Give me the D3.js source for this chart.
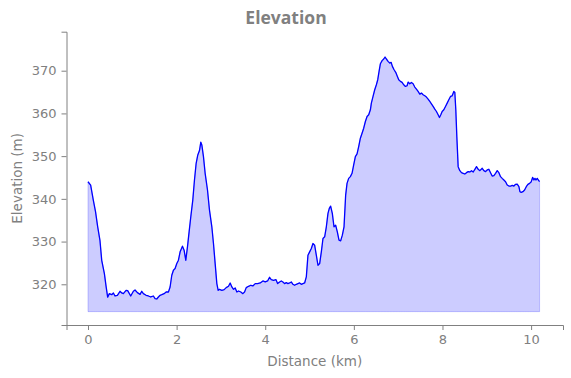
<!DOCTYPE html>
<html>
<head>
<meta charset="utf-8">
<script src="https://cdn.jsdelivr.net/npm/d3@7"></script>
<style>
    body { margin: 0; background: #fff; }
    text { font-family: 'DejaVu Sans', sans-serif; fill: #808080; }
    .axis text { font-size: 13px; }
    .axis path, .axis line { stroke: #808080; }
    .title { font-family: 'Open Sans', sans-serif; font-weight: bold; font-size: 17.5px; }
</style>
</head>
<body>
<div id="chart"></div>
<script>
// Data: distance along the route (km) and elevation (m)
const distanceKm = [
    0.00, 0.06, 0.12, 0.17, 0.22, 0.27, 0.31, 0.37, 0.41, 0.444,
    0.482, 0.535, 0.573, 0.610, 0.663, 0.723, 0.761, 0.798, 0.859, 0.896,
    0.964, 1.024, 1.062, 1.115, 1.175, 1.213, 1.250, 1.311, 1.363, 1.416,
    1.476, 1.514, 1.552, 1.589, 1.627, 1.665, 1.718, 1.763, 1.815, 1.853,
    1.891, 1.928, 1.966, 2.004, 2.041, 2.079, 2.132, 2.169, 2.207, 2.245,
    2.282, 2.320, 2.365, 2.403, 2.441, 2.478, 2.516, 2.546, 2.569, 2.606,
    2.644, 2.697, 2.742, 2.795, 2.832, 2.870, 2.908, 2.938, 2.968, 3.021,
    3.073, 3.119, 3.171, 3.209, 3.247, 3.284, 3.322, 3.360, 3.397, 3.450,
    3.495, 3.533, 3.571, 3.623, 3.676, 3.721, 3.774, 3.827, 3.887, 3.947,
    4.000, 4.053, 4.098, 4.136, 4.188, 4.241, 4.279, 4.324, 4.362, 4.399,
    4.437, 4.475, 4.512, 4.550, 4.588, 4.625, 4.663, 4.701, 4.738, 4.776,
    4.814, 4.851, 4.889, 4.927, 4.964, 5.002, 5.040, 5.077, 5.115, 5.153,
    5.190, 5.228, 5.266, 5.303, 5.341, 5.379, 5.416, 5.446, 5.476, 5.514,
    5.552, 5.589, 5.627, 5.665, 5.702, 5.740, 5.778, 5.815, 5.846, 5.883,
    5.921, 5.959, 5.996, 6.034, 6.072, 6.109, 6.147, 6.185, 6.222, 6.260,
    6.298, 6.335, 6.373, 6.395, 6.433, 6.471, 6.508, 6.539, 6.569, 6.599,
    6.637, 6.674, 6.704, 6.734, 6.772, 6.810, 6.840, 6.870, 6.908, 6.945,
    6.976, 7.013, 7.051, 7.089, 7.126, 7.164, 7.202, 7.224, 7.262, 7.299,
    7.337, 7.375, 7.412, 7.450, 7.488, 7.525, 7.563, 7.601, 7.638, 7.676,
    7.714, 7.751, 7.789, 7.827, 7.864, 7.902, 7.932, 7.962, 7.993, 8.030,
    8.068, 8.106, 8.143, 8.181, 8.219, 8.256, 8.279, 8.301, 8.324, 8.354,
    8.392, 8.429, 8.467, 8.505, 8.542, 8.580, 8.618, 8.655, 8.693, 8.731,
    8.768, 8.806, 8.844, 8.897, 8.934, 8.972, 9.009, 9.047, 9.085, 9.122,
    9.160, 9.198, 9.235, 9.273, 9.311, 9.348, 9.386, 9.424, 9.461, 9.499,
    9.537, 9.574, 9.612, 9.650, 9.687, 9.725, 9.748, 9.778, 9.815, 9.853,
    9.891, 9.928, 9.966, 10.004, 10.034, 10.064, 10.087, 10.109, 10.139, 10.162,
    10.192
];
const elevationM = [
    344.0, 343.2, 339.7, 337.0, 333.4, 330.3, 325.6, 322.5, 319.4, 317.0,
    317.81, 317.57, 317.97, 317.26, 317.42, 318.36, 317.97, 317.81, 318.59, 318.51,
    317.26, 318.36, 318.67, 318.04, 317.65, 318.36, 317.81, 317.42, 317.26, 317.03,
    317.26, 316.64, 316.56, 317.03, 317.42, 317.57, 317.81, 318.20, 318.20, 319.37,
    322.11, 323.29, 323.68, 324.85, 325.63, 327.59, 328.92, 327.98, 325.63, 328.76,
    332.28, 335.81, 339.72, 344.41, 348.33, 350.28, 351.30, 353.26, 352.63, 349.89,
    345.98, 342.07, 337.37, 333.46, 329.55, 324.85, 320.16, 318.59, 318.83, 318.59,
    318.75, 319.22, 319.53, 320.31, 319.37, 318.83, 319.14, 318.20, 318.43, 318.20,
    317.81, 318.20, 319.22, 319.53, 319.77, 319.61, 320.16, 320.16, 320.31, 320.78,
    320.55, 320.78, 321.64, 321.10, 320.94, 321.10, 320.16, 320.55, 320.78, 320.55,
    320.16, 320.39, 320.16, 320.31, 320.55, 320.00, 319.77, 320.00, 320.16, 320.31,
    320.00, 320.16, 320.31, 321.72, 326.81, 327.59, 328.37, 329.55, 329.15, 326.81,
    324.46, 324.85, 327.59, 330.72, 331.11, 333.46, 336.59, 337.76, 338.31, 336.59,
    333.46, 333.85, 332.28, 330.33, 330.17, 331.50, 333.46, 340.89, 343.63, 344.80,
    345.20, 345.98, 347.93, 349.89, 350.52, 352.24, 354.19, 355.37, 356.54, 358.11,
    359.28, 359.67, 360.85, 362.41, 363.97, 365.54, 366.71, 367.89, 369.84, 371.64,
    372.35, 372.74, 373.21, 372.74, 372.19, 371.80, 371.96, 371.02, 370.23, 369.61,
    368.83, 367.89, 367.50, 367.26, 366.71, 366.32, 366.48, 367.34, 366.95, 367.26,
    366.95, 366.17, 365.70, 365.15, 364.52, 364.76, 364.37, 364.13, 363.82, 363.35,
    362.80, 362.25, 361.63, 361.00, 360.45, 359.67, 359.05, 359.67, 360.45, 360.85,
    361.63, 362.41, 363.19, 363.97, 364.13, 365.15, 364.91, 360.85, 354.58, 347.54,
    346.60, 346.13, 345.98, 345.82, 346.13, 346.37, 346.29, 346.60, 346.29, 346.92,
    347.54, 346.92, 346.60, 347.15, 346.60, 346.37, 346.76, 346.92, 346.13, 345.35,
    345.43, 345.98, 346.60, 346.13, 345.20, 344.80, 344.41, 344.02, 343.24, 343.00,
    343.00, 343.16, 343.00, 343.40, 343.47, 342.85, 341.67, 341.52, 341.67, 342.07,
    342.85, 343.40, 343.63, 344.02, 345.04, 344.41, 344.80, 344.41, 344.80, 344.41,
    344.02
];
const fillBaseline = 313.6;
const xTicks = [0, 2, 4, 6, 8, 10];
const yTicks = [320, 330, 340, 350, 360, 370];
const xDomain = [-0.485, 10.72];
const yDomain = [310.47, 379.13];

const dataset = distanceKm.map((d, i) => ({ dist: d, elev: elevationM[i] }));
const xAccessor = d => d.dist;
const yAccessor = d => d.elev;

// Dimensions
let dimensions = {
    width: 571,
    height: 378,
    margins: { top: 31.7, right: 8, bottom: 53, left: 66.5 }
};
dimensions.containerWidth = dimensions.width - dimensions.margins.left - dimensions.margins.right;
dimensions.containerHeight = dimensions.height - dimensions.margins.top - dimensions.margins.bottom;

// Draw SVG
const svg = d3.select('#chart')
    .append('svg')
    .attr('width', dimensions.width)
    .attr('height', dimensions.height);

const container = svg.append('g')
    .attr('transform', `translate(${dimensions.margins.left}, ${dimensions.margins.top})`);

// Scales
const xScale = d3.scaleLinear()
    .domain(xDomain)
    .range([0, dimensions.containerWidth]);

const yScale = d3.scaleLinear()
    .domain(yDomain)
    .range([dimensions.containerHeight, 0]);

// Area + line
const area = d3.area()
    .x(d => xScale(xAccessor(d)))
    .y0(yScale(fillBaseline))
    .y1(d => yScale(yAccessor(d)));

const line = d3.line()
    .x(d => xScale(xAccessor(d)))
    .y(d => yScale(yAccessor(d)));

container.append('path')
    .datum(dataset)
    .attr('d', area)
    .attr('fill', 'rgba(0, 0, 255, 0.2)')
    .attr('stroke', 'rgba(0, 0, 255, 0.2)')
    .attr('stroke-width', 1);

container.append('path')
    .datum(dataset)
    .attr('d', line)
    .attr('fill', 'none')
    .attr('stroke', '#0000ff')
    .attr('stroke-width', 1.3)
    .attr('stroke-linejoin', 'round');

// Axes
const xAxis = d3.axisBottom(xScale)
    .tickValues(xTicks)
    .tickSizeOuter(0)
    .tickSize(5)
    .tickPadding(5);

const yAxis = d3.axisLeft(yScale)
    .tickValues(yTicks)
    .tickSizeOuter(0)
    .tickSize(5)
    .tickPadding(5);

container.append('g')
    .classed('axis', true)
    .attr('transform', `translate(0, ${dimensions.containerHeight})`)
    .call(xAxis);

container.append('g')
    .classed('axis', true)
    .call(yAxis);

svg.selectAll('.axis text').attr('font-family', null);

// Labels
svg.append('text')
    .classed('title', true)
    .attr('x', 286)
    .attr('y', 24)
    .attr('text-anchor', 'middle')
    .text('Elevation');

svg.append('text')
    .attr('x', dimensions.margins.left + dimensions.containerWidth / 2)
    .attr('y', 366)
    .attr('text-anchor', 'middle')
    .style('font-size', '13.5px')
    .text('Distance (km)');

svg.append('text')
    .attr('transform', `translate(22, ${dimensions.margins.top + dimensions.containerHeight / 2}) rotate(-90)`)
    .attr('text-anchor', 'middle')
    .style('font-size', '13.5px')
    .text('Elevation (m)');
</script>
</body>
</html>
